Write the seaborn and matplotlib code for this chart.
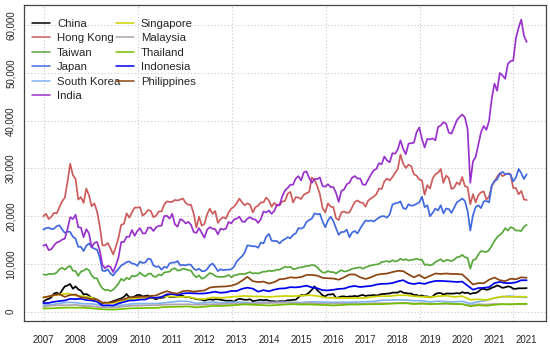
import numpy as np
import pandas as pd
import matplotlib
matplotlib.use("Agg")
import matplotlib.pyplot as plt
from matplotlib.lines import Line2D
from matplotlib.ticker import FuncFormatter
import seaborn as sns

# monthly readings (start of month, Jan 2007 .. Dec 2021, plus last value)
hong_kong = [
    20000, 20500, 19400, 19900, 20700, 20600, 21900, 23100, 23900, 27200, 31000, 28600,
    27800, 23500, 24000, 22800, 25800, 24400, 22100, 22700, 21000, 18000, 13900, 13900,
    14400, 13300, 12000, 13600, 15500, 18200, 18400, 20600, 19700, 20800, 21800, 21800,
    21900, 20100, 20600, 21300, 21100, 19800, 20100, 21000, 21000, 22400, 23100, 23000,
    23000, 23400, 23300, 23500, 23700, 22800, 22400, 22400, 20500, 17600, 19900, 18000,
    18400, 20400, 21600, 20500, 21100, 18600, 19400, 19800, 19500, 20800, 21600, 22000,
    22700, 23700, 22900, 22300, 22700, 22400, 20800, 21900, 22200, 22900, 22900, 23900,
    23300, 22000, 22800, 22200, 22300, 23100, 23200, 24700, 25100, 22900, 24000, 23900,
    23600, 24500, 24800, 25100, 28100, 27600, 26300, 24600, 21700, 20800, 22700, 22000,
    21900, 19600, 19200, 20800, 21000, 20700, 20800, 21900, 23000, 23300, 22900, 22800,
    22000, 23300, 23700, 24100, 24600, 25800, 25700, 27300, 27900, 27500, 28200, 29100,
    29900, 32900, 31000, 30100, 30800, 30500, 28800, 28500, 27700, 27500, 24500, 26500,
    25800, 27900, 28800, 29100, 29900, 27000, 28500, 28000, 25700, 26000, 27100, 26600,
    28200, 26300, 26100, 22500, 24600, 22900, 24400, 25000, 25200, 23500, 24100, 26400,
    27200, 28300, 29000, 28400, 28700, 29000, 28800, 25900, 25900, 24600, 25300, 23500,
    23400]
india = [
    13800, 14100, 12900, 13100, 13900, 14500, 14700, 15100, 15300, 17300, 19800, 19400,
    20300, 17700, 17600, 15600, 17300, 16400, 13500, 14400, 14600, 12900, 9800, 9100,
    9600, 9400, 8300, 9700, 11400, 14600, 14600, 15700, 15700, 17100, 15900, 16900,
    17500, 16400, 16400, 17600, 17600, 16900, 17700, 18000, 18000, 20000, 20100, 19500,
    20500, 18300, 17800, 19400, 19100, 18500, 18800, 18200, 16700, 16500, 17500, 16500,
    15500, 17200, 17700, 17400, 17300, 16200, 17400, 17200, 17400, 18800, 18500, 19300,
    19500, 19900, 18900, 18800, 19500, 19800, 19400, 19300, 18600, 19400, 21000, 20800,
    21200, 20500, 21100, 22400, 22400, 24200, 25400, 25900, 26600, 26600, 27900, 28400,
    27500, 29200, 29400, 28000, 27000, 27800, 27800, 28100, 26300, 26200, 26700, 26100,
    26100, 24900, 23000, 25300, 25600, 26700, 27000, 28100, 28400, 27900, 27900, 26600,
    26600, 27700, 28700, 29600, 29900, 31100, 30900, 32500, 31700, 31300, 33200, 33100,
    34000, 35900, 34100, 33000, 35200, 35300, 35400, 37600, 38600, 36200, 34400, 36200,
    36100, 36300, 35900, 38700, 39000, 39700, 39400, 37500, 37300, 38700, 40100, 40800,
    41300, 40700, 38300, 27000, 31500, 32400, 35000, 37600, 38900, 38100, 40000, 44600,
    47800, 46300, 50000, 49500, 48800, 51900, 52500, 52600, 57300, 59500, 61200, 57800,
    56500]
japan = [
    17200, 17500, 17600, 17300, 17400, 17900, 18100, 17200, 16500, 16800, 16700, 15700,
    15300, 13600, 13600, 12700, 13800, 14300, 13500, 13200, 13000, 11400, 8600, 8500,
    8860, 7990, 7570, 8350, 8980, 9670, 10000, 10400, 10500, 10100, 10000, 9600,
    10500, 10200, 10300, 11100, 11000, 9700, 9400, 9500, 8800, 9400, 9200, 10100,
    10300, 10300, 10600, 9700, 9800, 9700, 9900, 9800, 9000, 8700, 9000, 8500,
    8500, 8900, 9700, 10100, 9400, 8500, 8900, 8700, 8800, 8800, 8900, 9400,
    10500, 11100, 11600, 12400, 13900, 13800, 13700, 13700, 13400, 14500, 14300, 15700,
    16300, 14900, 14800, 14800, 14300, 14900, 15200, 15600, 15400, 16100, 16400, 17500,
    17400, 17700, 18800, 19200, 19500, 20600, 20400, 20500, 18900, 17700, 19100, 19900,
    19000, 17500, 16100, 16700, 16700, 17200, 15600, 16600, 16900, 16400, 17400, 18300,
    19100, 19000, 19100, 18900, 19300, 19700, 20000, 20000, 19700, 20400, 22400, 22700,
    22800, 23100, 21700, 21500, 22500, 22200, 22300, 22600, 22900, 24100, 21900, 22300,
    20000, 20700, 21600, 21200, 22300, 20600, 21600, 21500, 20700, 21800, 22900, 23300,
    23700, 23200, 21100, 17000, 20200, 21900, 22300, 21700, 23100, 23200, 22900, 26400,
    27400, 27700, 28900, 29300, 28800, 28900, 28700, 27300, 28100, 29900, 29000, 27800,
    28800]
taiwan = [
    7800, 7700, 7900, 7900, 7900, 8200, 8900, 9200, 8800, 9300, 9600, 8600,
    8500, 7500, 8400, 8600, 9000, 8700, 7600, 7000, 7000, 5700, 4900, 4500,
    4600, 4300, 4600, 5200, 5900, 6900, 6500, 7100, 6800, 7500, 7400, 7600,
    8200, 7700, 7400, 7900, 8000, 7400, 7300, 7800, 7600, 8200, 8300, 8400,
    8900, 9100, 8600, 8700, 9000, 8900, 8700, 8600, 7700, 7200, 7600, 6900,
    7100, 7600, 8100, 7900, 7500, 7300, 7300, 7300, 7400, 7700, 7200, 7600,
    7700, 7900, 7900, 7900, 8100, 8300, 8000, 8100, 8000, 8200, 8400, 8400,
    8600, 8500, 8600, 8800, 8800, 9100, 9400, 9300, 9400, 8900, 9000, 9200,
    9300, 9400, 9600, 9600, 9800, 9700, 9300, 8700, 8200, 8200, 8500, 8300,
    8300, 8000, 8400, 8700, 8400, 8500, 8700, 9000, 9100, 9200, 9300, 9000,
    9300, 9500, 9700, 9800, 9900, 10000, 10400, 10500, 10600, 10400, 10800, 10500,
    10700, 11100, 10800, 11000, 10700, 10900, 10900, 11100, 10900, 10900, 9800, 9900,
    9700, 9900, 10400, 10700, 11000, 10500, 10800, 10800, 10600, 10900, 11400, 11500,
    11900, 11400, 11300, 9000, 10800, 11000, 12000, 12700, 12600, 12500, 12900, 13800,
    14800, 15600, 16100, 16600, 17500, 17000, 17700, 17500, 17000, 17000, 16900, 17800,
    18200]
china = [
    2100, 2500, 2700, 3000, 3800, 4000, 3600, 4500, 5300, 5500, 5800, 4800,
    5300, 4700, 4400, 3600, 3700, 3400, 2800, 2800, 2300, 2200, 1700, 1900,
    1800, 2000, 2200, 2400, 2600, 2800, 3100, 3700, 3000, 3000, 3200, 3500,
    3500, 3200, 3300, 3400, 3000, 2800, 2600, 2900, 2900, 3000, 3400, 3100,
    3100, 3100, 3200, 3300, 3300, 3000, 3100, 2900, 2800, 2600, 2600, 2500,
    2300, 2500, 2600, 2500, 2600, 2600, 2500, 2400, 2300, 2300, 2300, 2100,
    2500, 2700, 2600, 2500, 2500, 2600, 2200, 2300, 2400, 2500, 2400, 2500,
    2300, 2200, 2200, 2100, 2200, 2200, 2200, 2400, 2400, 2500, 2500, 3000,
    3500, 3400, 3600, 4000, 4600, 5300, 4500, 4000, 3400, 3200, 3600, 3600,
    3700, 2900, 3000, 3200, 3200, 3100, 3200, 3200, 3300, 3200, 3400, 3500,
    3300, 3400, 3400, 3500, 3400, 3500, 3700, 3700, 3800, 3800, 4000, 4000,
    4000, 4300, 4000, 3900, 3800, 3800, 3500, 3500, 3300, 3400, 3200, 3200,
    3000, 3200, 3700, 3900, 3900, 3600, 3800, 3800, 3800, 3800, 3900, 3800,
    4100, 3900, 4000, 3700, 3900, 3900, 4200, 4700, 4800, 4600, 4700, 5000,
    5200, 5500, 5300, 5000, 5100, 5300, 5200, 4800, 4800, 4900, 4900, 4900,
    4950]

# every two months
indonesia = [
    1800, 1830, 2080, 2230, 2350, 2690, 2630, 2720, 2440, 2350, 2100, 1300,
    1350, 1290, 1720, 2030, 2340, 2370, 2530, 2550, 2970, 2910, 3080, 3640,
    3690, 3470, 3820, 3890, 3850, 3790, 3820, 3990, 4180, 3960, 4060, 4350,
    4320, 4800, 5030, 4830, 4190, 4510, 4270, 4620, 4840, 4890, 5140, 5090,
    5230, 5450, 5090, 4910, 4510, 4460, 4590, 4770, 4840, 5220, 5390, 5160,
    5300, 5390, 5680, 5830, 5860, 6000, 6360, 6600, 6000, 5800, 6000, 5830,
    6190, 6440, 6450, 6380, 6320, 6230, 6300, 5450, 4600, 4950, 5000, 5150,
    5980, 6240, 6000, 5980, 6150, 6590, 6580]
philippines = [
    2980, 3200, 3500, 3650, 3100, 3500, 3600, 3000, 2900, 2600, 2600, 1900,
    1900, 2000, 2400, 2600, 3000, 3050, 3150, 3100, 3300, 3400, 3900, 4300,
    3950, 3800, 4300, 4400, 4200, 4350, 4450, 5050, 5200, 5250, 5300, 5450,
    5800, 6500, 7300, 6400, 6200, 6300, 5900, 6200, 6800, 6900, 7200, 7100,
    7250, 7700, 7700, 7550, 7100, 7000, 6950, 6700, 7200, 7800, 7800, 7200,
    6850, 7200, 7700, 7900, 8000, 8300, 8550, 8500, 7800, 7200, 7700, 7000,
    7500, 8000, 7900, 8000, 7900, 7900, 7800, 6800, 5700, 6000, 5950, 6700,
    7150, 6600, 6400, 6900, 6800, 7200, 7100]

# quarterly
singapore = [
    3000, 3300, 3600, 3800, 3400, 3200, 2950, 2000, 1750, 1900, 2400, 2650,
    2900, 2950, 2900, 3200, 3200, 3100, 3100, 2700, 2650, 3000, 2900, 3050,
    3200, 3300, 3200, 3200, 3100, 3200, 3300, 3250, 3350, 3450, 3300, 2950,
    2900, 2850, 2850, 2850, 2900, 3150, 3250, 3250, 3450, 3450, 3250, 3150,
    3050, 3250, 3350, 3100, 3250, 2500, 2600, 2450, 2850, 3200, 3100, 3150,
    3120]
south_korea = [
    1430, 1450, 1750, 1950, 1900, 1650, 1650, 1400, 1150, 1250, 1400, 1650,
    1700, 1700, 1700, 1850, 2050, 2200, 2150, 1750, 1850, 2050, 1850, 1950,
    2000, 1950, 1850, 2000, 1960, 1990, 2010, 1970, 1920, 2050, 2050, 2000,
    1960, 1990, 1970, 2040, 2070, 2160, 2400, 2420, 2480, 2450, 2300, 2300,
    2040, 2200, 2100, 2050, 2170, 1700, 2100, 2330, 2900, 3100, 3280, 3050,
    2980]
malaysia = [
    1100, 1300, 1350, 1350, 1450, 1200, 1150, 950, 880, 900, 1100, 1250,
    1270, 1330, 1350, 1470, 1520, 1520, 1550, 1450, 1500, 1570, 1600, 1660,
    1680, 1700, 1750, 1780, 1820, 1860, 1870, 1820, 1760, 1800, 1710, 1660,
    1690, 1720, 1650, 1670, 1640, 1750, 1770, 1760, 1800, 1860, 1700, 1780,
    1680, 1640, 1680, 1580, 1580, 1350, 1550, 1500, 1620, 1580, 1530, 1580,
    1560]
thailand = [
    680, 700, 800, 850, 850, 830, 700, 550, 450, 450, 600, 720,
    730, 780, 800, 970, 1030, 1050, 1100, 900, 1050, 1200, 1200, 1280,
    1400, 1550, 1450, 1400, 1300, 1400, 1500, 1580, 1500, 1520, 1450, 1400,
    1300, 1400, 1500, 1500, 1550, 1570, 1580, 1670, 1750, 1760, 1600, 1680,
    1580, 1650, 1730, 1620, 1590, 1130, 1360, 1240, 1450, 1580, 1550, 1630,
    1650]

countries = ["China", "Hong Kong", "Taiwan", "Japan", "South Korea", "India",
             "Singapore", "Malaysia", "Thailand", "Indonesia", "Philippines"]
colors = ["black", "#CD5C5C", "#58A83C", "#4169E1", "#80B4F0", "#9932CC",
          "#CCD400", "#B0A2AA", "#74C000", "#0000F0", "#8B4513"]
tick_labels = ["2007", "2008", "2009", "2010", "2011", "2012", "2013", "2014",
               "2015", "2016", "2017", "2018", "2019", "2020", "2021", "2021"]

series = {"China": china, "Hong Kong": hong_kong, "Taiwan": taiwan,
          "Japan": japan, "South Korea": south_korea, "India": india,
          "Singapore": singapore, "Malaysia": malaysia, "Thailand": thailand,
          "Indonesia": indonesia, "Philippines": philippines}

frames = []
for name in countries:
    vals = series[name]
    t = np.linspace(2007, 2022, len(vals))
    frames.append(pd.DataFrame({"time": t, "value": vals, "country": name}))
df = pd.concat(frames, ignore_index=True)

sns.set_style("white")
plt.rcParams["font.family"] = ["Liberation Sans", "DejaVu Sans"]

fig = plt.figure(figsize=(5.5, 3.47), dpi=100)
ax = fig.add_axes([24 / 550, 1 - 321 / 347, 522 / 550, 316 / 347])

palette = dict(zip(countries, colors))
sns.lineplot(data=df, x="time", y="value", hue="country", hue_order=countries,
             palette=palette, estimator=None, sort=False, linewidth=1.25,
             legend=False, ax=ax)

ax.set_xlim(2007 - 0.6, 2022 + 0.6)
ax.set_ylim(-1950, 64250)

# grid like R's grid()
for gx in [2007.03, 2009.94, 2012.85, 2015.77, 2018.68, 2021.59]:
    ax.axvline(gx, color="#C8C8C8", lw=0.8, ls=(0, (1, 2)), zorder=0)
for gy in range(0, 60001, 10000):
    ax.axhline(gy, color="#C8C8C8", lw=0.8, ls=(0, (1, 2)), zorder=0)

ax.set_xticks(np.arange(2007, 2023))
ax.set_xticklabels(tick_labels)
ax.set_yticks(range(0, 60001, 10000))
ax.yaxis.set_major_formatter(FuncFormatter(lambda v, p: f"{int(v):,}"))
ax.tick_params(axis="both", direction="out", length=4, width=0.8,
               color="#333333", labelsize=7)
ax.tick_params(axis="x", pad=6)
ax.tick_params(axis="y", pad=2)
for lab in ax.get_yticklabels():
    lab.set_rotation(90)
    lab.set_va("center")
ax.set_xlabel("")
ax.set_ylabel("")
for s in ax.spines.values():
    s.set_color("#444444")
    s.set_linewidth(0.9)

handles = [Line2D([0], [0], color=c, lw=1.1) for c in colors]
ax.legend(handles, countries, ncol=2, loc="upper left", frameon=False,
          fontsize=8.2, handlelength=1.6, handletextpad=0.6,
          labelspacing=0.4, columnspacing=-0.4, borderaxespad=0.3,
          bbox_to_anchor=(0.0, 0.982))

fig.savefig("out.png", dpi=100)
